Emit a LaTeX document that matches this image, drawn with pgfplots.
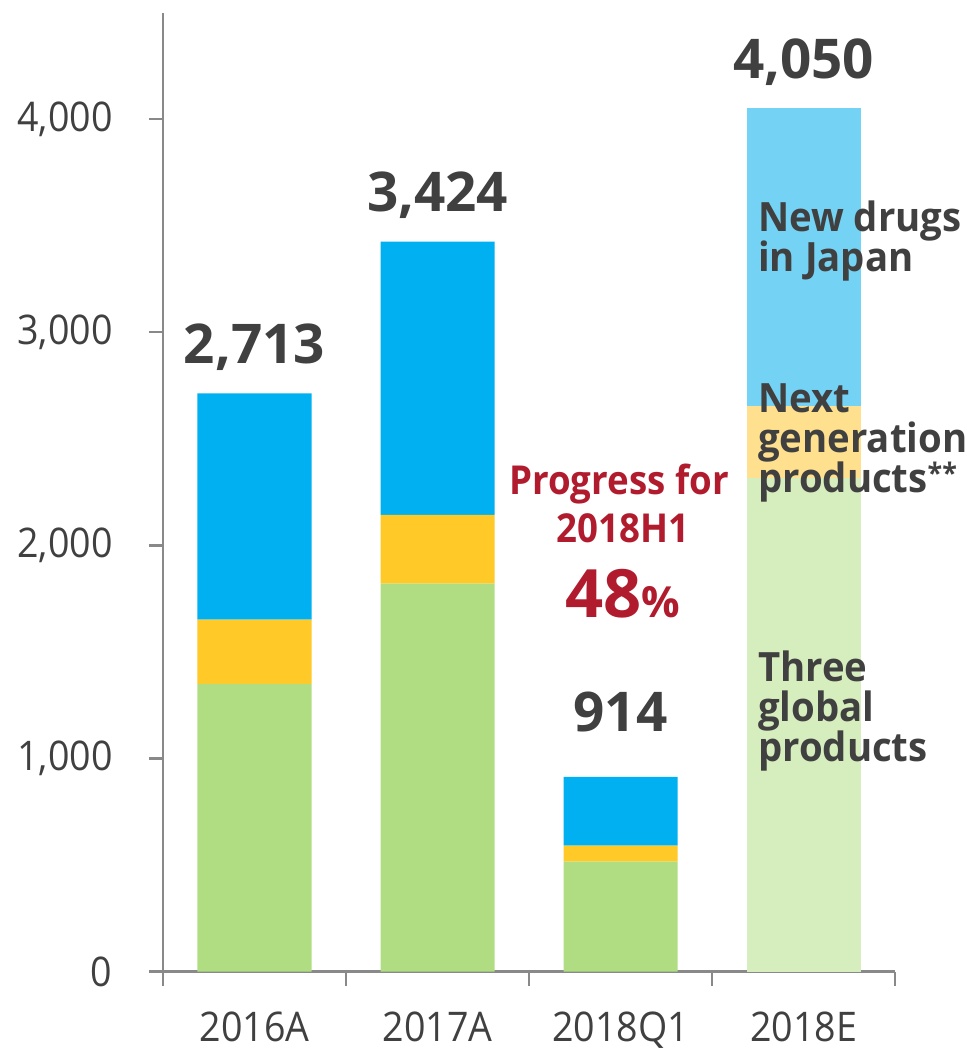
\documentclass[border=0pt]{standalone}
\usepackage{pgfplots}
\pgfplotsset{compat=1.18}
\usepackage{pgfplotstable}
\usepackage{fontspec}
\setmainfont{Open Sans}[FakeStretch=0.92]
\newfontfamily\wide{Open Sans}
\newfontfamily\annot{Open Sans}[FakeStretch=0.95]
\definecolor{cgreen}{HTML}{B0DD82}
\definecolor{cyellow}{HTML}{FFCA28}
\definecolor{cblue}{HTML}{00B0F0}
\definecolor{cgreenL}{HTML}{D6EEBE}
\definecolor{cyellowL}{HTML}{FFE08E}
\definecolor{cblueL}{HTML}{74D2F4}
\definecolor{axgray}{HTML}{898989}
\definecolor{txt}{HTML}{404040}
\definecolor{cred}{HTML}{B01C2E}
\pgfplotstableread{
cat gr ye bl grl yel bll
0 1350 301 1062 0 0 0
1 1820 323 1281 0 0 0
2 516 75 323 0 0 0
3 0 0 0 2317 337 1396
}\data
\tikzset{barlab/.style={anchor=base, text=txt, font=\wide\fontsize{55}{55}\selectfont\bfseries}}
\begin{document}
\begin{tikzpicture}[x=1bp,y=1bp]
\useasboundingbox (-163,-78.3) rectangle (804,971.7);
\begin{axis}[
  at={(0,0)}, anchor=south west,
  scale only axis, width=732bp, height=958.7bp,
  ybar stacked, bar width=114bp,
  xmin=-0.5, xmax=3.5, ymin=0, ymax=4497,
  axis x line=bottom, axis y line=left,
  axis line style={draw=axgray, line width=2.5bp, -},
  xtick={0,1,2,3}, xticklabels={2016A,2017A,2018Q1,2018E},
  xtick style={draw=none},
  minor xtick={-0.5,0.5,1.5,2.5,3.5},
  minor x tick style={draw=axgray, line width=2.5bp},
  minor tick length=14bp,
  ytick={0,1000,2000,3000,4000},
  ytick style={draw=axgray, line width=2.5bp},
  major tick length=14bp,
  tick align=outside,
  y tick label style={/pgf/number format/1000 sep={,}, font=\fontsize{41}{41}\selectfont, text=txt, xshift=-33bp},
  x tick label style={font=\fontsize{41}{41}\selectfont, text=txt, yshift=-23bp},
  /pgf/number format/assume math mode=true,
  clip=false,
]
\addplot[fill=cgreen, draw=none] table[x=cat,y=gr]{\data};
\addplot[fill=cyellow, draw=none] table[x=cat,y=ye]{\data};
\addplot[fill=cblue, draw=none] table[x=cat,y=bl]{\data};
\addplot[fill=cgreenL, draw=none] table[x=cat,y=grl]{\data};
\addplot[fill=cyellowL, draw=none] table[x=cat,y=yel]{\data};
\addplot[fill=cblueL, draw=none] table[x=cat,y=bll]{\data};
\node[barlab, yshift=30bp] at (axis cs:0,2713) {2,713};
\node[barlab, yshift=30bp] at (axis cs:1,3424) {3,424};
\node[barlab, yshift=45bp] at (axis cs:2,914) {914};
\node[barlab, yshift=30bp] at (axis cs:3,4050) {4,050};
\end{axis}
\begin{scope}[every node/.style={anchor=base west, inner sep=0pt, text=txt, font=\annot\fontsize{40.5}{40}\selectfont\bfseries}]
\node at (595,739.7) {New drugs};
\node at (595,699.7) {in Japan};
\node at (595,558.7) {Next};
\node at (595,518.7) {generation};
\node at (595,478.7) {products\textsuperscript{**}};
\node at (595,289.7) {Three};
\node at (595,249.7) {global};
\node at (595,209.7) {products};
\end{scope}
\begin{scope}[every node/.style={anchor=base, inner sep=0pt, text=cred, font=\fontsize{40}{40}\selectfont\bfseries}]
\node at (456,476.7) {Progress for};
\node at (460,428.7) {2018H1};
\node at (460,353.7) {\wide\fontsize{67}{67}\selectfont 48\fontsize{43}{43}\selectfont\%};
\end{scope}
\end{tikzpicture}
\end{document}
